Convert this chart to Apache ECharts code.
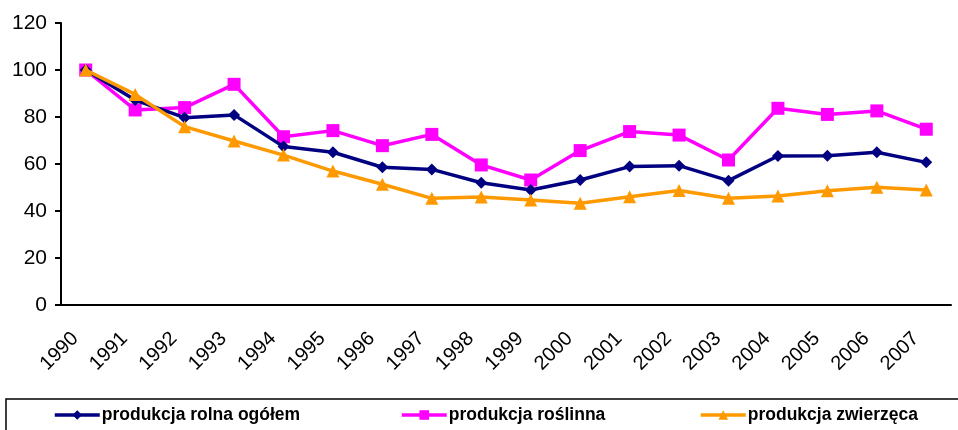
<!DOCTYPE html>
<html>
<head>
<meta charset="utf-8">
<script src="https://cdn.jsdelivr.net/npm/echarts@6/dist/echarts.min.js"></script>
<style>
  html, body { margin: 0; padding: 0; background: #fff; }
  #chart { width: 958px; height: 430px; }
</style>
</head>
<body>
<div id="chart"></div>
<script>
var years = ['1990','1991','1992','1993','1994','1995','1996','1997','1998','1999',
             '2000','2001','2002','2003','2004','2005','2006','2007'];
var rolnaOgolem = [100, 87.2, 79.7, 80.9, 67.4, 65.0, 58.6, 57.7, 52.0, 48.9,
                   53.2, 58.9, 59.3, 52.9, 63.4, 63.5, 65.0, 60.7];
var roslinna    = [100, 83.0, 84.0, 93.9, 71.6, 74.2, 67.8, 72.6, 59.6, 53.2,
                   65.7, 73.8, 72.3, 61.7, 83.7, 81.1, 82.6, 74.8];
var zwierzeca   = [100, 89.6, 75.9, 69.8, 63.8, 57.0, 51.4, 45.4, 46.0, 44.7,
                   43.3, 46.1, 48.7, 45.4, 46.4, 48.6, 50.1, 48.9];
var yTicks = [0, 20, 40, 60, 80, 100, 120];

var names = ['produkcja rolna ogółem', 'produkcja roślinna', 'produkcja zwierzęca'];
var colors = ['#000080', '#FF00FF', '#FF9900'];

var myChart = echarts.init(document.getElementById('chart'));

// one legend per item, so each can sit where the original puts it
var legendOf = function(name, left) {
    return {
        data: [name], left: left, top: 406,
        itemWidth: 45, itemHeight: 12, itemGap: 0, padding: 0,
        lineStyle: { width: 3.5 },
        textStyle: { fontFamily: 'Liberation Sans, Arial', fontSize: 17.5, fontWeight: 'bold', color: '#000', padding: [0, 0, 0, -3] }
    };
};

var option = {
    animation: false,
    grid: { left: 61, right: 7, top: 23, bottom: 125 },
    legend: [legendOf(names[0], 53), legendOf(names[1], 400), legendOf(names[2], 699)],
    graphic: [{
        type: 'rect', shape: { x: 6, y: 399, width: 1000, height: 100 },
        style: { fill: 'none', stroke: '#000', lineWidth: 1.5 }, silent: true
    }],
    xAxis: [{
        type: 'category', data: years, boundaryGap: true,
        axisLine: { lineStyle: { color: '#000', width: 2 } },
        axisTick: { length: 7, lineStyle: { color: '#000', width: 2 } },
        // padding pushes the rotated labels down-left, like Excel does
        axisLabel: { interval: 0, rotate: 45, margin: 20, padding: [0, 15, 0, 0],
                     fontFamily: 'Liberation Sans, Arial', fontSize: 20, color: '#000' }
    }],
    yAxis: [{
        type: 'value', min: yTicks[0], max: yTicks[yTicks.length - 1], interval: 20,
        axisLine: { show: true, lineStyle: { color: '#000', width: 2 } },
        axisTick: { show: true, length: 6, lineStyle: { color: '#000', width: 2 } },
        splitLine: { show: false },
        axisLabel: { margin: 14, fontFamily: 'Liberation Sans, Arial', fontSize: 21, color: '#000' }
    }],
    series: [
        { name: names[0], type: 'line', data: rolnaOgolem, symbol: 'diamond', symbolSize: 12,
          lineStyle: { width: 3.5, color: colors[0] }, itemStyle: { color: colors[0] }, z: 3 },
        { name: names[1], type: 'line', data: roslinna, symbol: 'rect', symbolSize: 13,
          lineStyle: { width: 3.5, color: colors[1] }, itemStyle: { color: colors[1] }, z: 2 },
        { name: names[2], type: 'line', data: zwierzeca, symbol: 'triangle', symbolSize: 13,
          lineStyle: { width: 3.5, color: colors[2] }, itemStyle: { color: colors[2] }, z: 4 }
    ]
};
myChart.setOption(option);
window.onresize = myChart.resize;
</script>
</body>
</html>
